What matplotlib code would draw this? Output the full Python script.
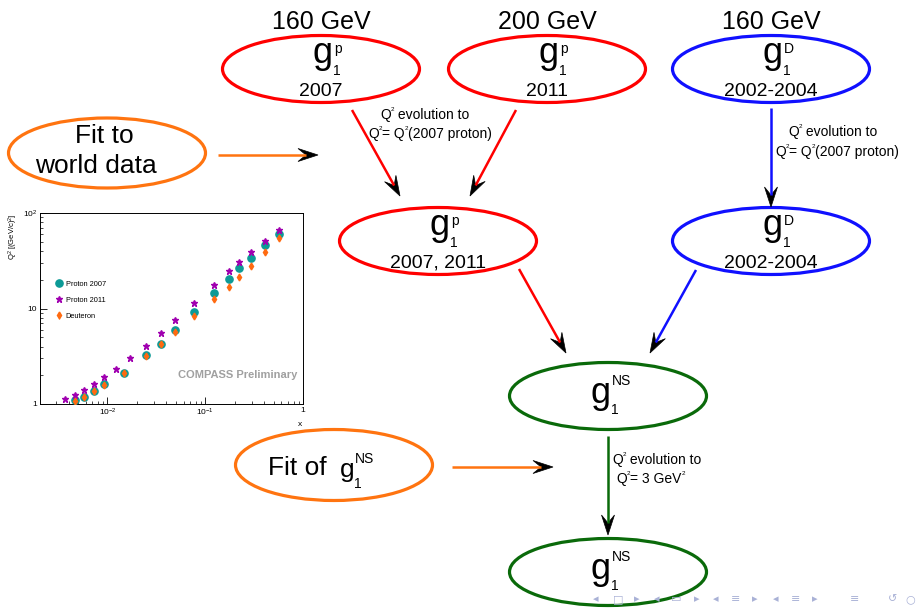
import matplotlib
matplotlib.use('Agg')
import matplotlib.pyplot as plt
from matplotlib.patches import Ellipse, Polygon
import numpy as np

plt.rcParams['font.family'] = ['Liberation Sans', 'DejaVu Sans']
plt.rcParams['mathtext.fontset'] = 'custom'
plt.rcParams['mathtext.rm'] = 'Liberation Sans'
plt.rcParams['mathtext.it'] = 'Liberation Sans'

# kinematic coverage (x, Q^2) of the three data sets
x_p07 = [0.0047, 0.0057, 0.0072, 0.0092, 0.0149, 0.0245, 0.0349, 0.0493,
         0.077, 0.122, 0.173, 0.223, 0.291, 0.405, 0.563]
q2_p07 = [1.10, 1.19, 1.38, 1.61, 2.12, 3.23, 4.28, 6.0,
          9.3, 14.6, 20.5, 26.4, 33.9, 46.4, 60.6]
x_p11 = [0.0037, 0.0047, 0.0057, 0.0072, 0.0092, 0.0121, 0.0171, 0.0245, 0.0349,
         0.0493, 0.077, 0.122, 0.173, 0.223, 0.291, 0.405, 0.563]
q2_p11 = [1.12, 1.23, 1.39, 1.61, 1.91, 2.32, 3.0, 4.08, 5.55,
          7.54, 11.5, 17.6, 24.5, 30.7, 38.8, 50.7, 66.2]
x_d = [0.0047, 0.0057, 0.0072, 0.0092, 0.0149, 0.0245, 0.0349, 0.0493,
       0.077, 0.122, 0.173, 0.223, 0.291, 0.405, 0.563]
q2_d = [1.08, 1.19, 1.36, 1.60, 2.12, 3.15, 4.21, 5.73,
        8.37, 12.5, 16.9, 21.4, 27.9, 39.2, 54.1]
q2_d_err = [0.05, 0.05, 0.06, 0.07, 0.09, 0.13, 0.17, 0.23,
            0.33, 0.5, 0.7, 0.9, 1.1, 1.6, 2.2]
legend_labels = ['Proton 2007', 'Proton 2011', 'Deuteron']

RED, BLUE, GREEN, ORANGE = '#ff0000', '#1010ff', '#0a6a0a', '#ff7410'

W, H = 921, 608
fig = plt.figure(figsize=(W / 100, H / 100), dpi=100)
ax = fig.add_axes([0, 0, 1, 1])
ax.set_xlim(0, W)
ax.set_ylim(H, 0)
ax.axis('off')
rend = fig.canvas.get_renderer()


def ellipse(cx, cy, color, w=197, h=67):
    ax.add_patch(Ellipse((cx, cy), w, h, fill=False, ec=color, lw=2.3))


def gsym(cx, cy, sup, size=26, sub_top=-5, sup_top=-27, g_base=-6, gx=1):
    ax.text(cx + gx, cy + g_base, 'g', fontsize=size, ha='center', va='baseline')
    ax.text(cx + gx + 11, cy + sub_top, '1', fontsize=10, ha='left', va='top')
    ax.text(cx + gx + 12, cy + sup_top, sup, fontsize=10, ha='left', va='top')


def node(cx, cy, color, sup, year=None, energy=None):
    ellipse(cx, cy, color)
    if year is None:
        gsym(cx, cy, sup, sub_top=7, sup_top=-22, g_base=7, gx=-8)
    else:
        gsym(cx, cy, sup)
        ax.text(cx, cy + 27, year, fontsize=14, ha='center', va='baseline')
    if energy:
        ax.text(cx, 29, energy, fontsize=18, ha='center', va='baseline')


def arrow(x0, y0, x1, y1, color, L=20, hw=6.5, notch=8):
    d = np.array([x1 - x0, y1 - y0], float)
    d /= np.hypot(*d)
    n = np.array([-d[1], d[0]])
    tip = np.array([x1, y1], float)
    back = tip - (L - notch) * d
    ax.plot([x0, back[0]], [y0, back[1]], color=color, lw=1.8, solid_capstyle='butt')
    pts = [tip, tip - L * d + hw * n, back, tip - L * d - hw * n]
    ax.add_patch(Polygon(pts, closed=True, fc='black', ec='black', lw=0.5))


def qline(x, y, parts, size=10):
    # one line of text; '^' puts a tiny raised "2" after the previous letter
    xc = x
    for s in parts:
        if s == '^':
            t = ax.text(xc, y - 8, '2', fontsize=size * 0.45, va='baseline')
        else:
            t = ax.text(xc, y, s, fontsize=size, va='baseline')
        xc += t.get_window_extent(rend).width


# nodes
node(321, 69, RED, 'p', '2007', '160 GeV')
node(547, 69, RED, 'p', '2011', '200 GeV')
node(771, 69, BLUE, 'D', '2002-2004', '160 GeV')
node(438, 241, RED, 'p', '2007, 2011')
node(771, 241, BLUE, 'D', '2002-2004')
node(608, 396, GREEN, 'NS')
node(608, 572, GREEN, 'NS')

# fit ellipses
ellipse(107, 153, ORANGE, h=70)
ax.text(104, 143, 'Fit to', fontsize=19, ha='center', va='baseline')
ax.text(96, 173, 'world data', fontsize=19, ha='center', va='baseline')
arrow(218, 155, 318, 155, ORANGE)

ellipse(334, 465, ORANGE, h=71)
ax.text(268, 475, 'Fit of', fontsize=19, ha='left', va='baseline')
ax.text(347, 477, 'g', fontsize=19, ha='center', va='baseline')
ax.text(354, 477, '1', fontsize=10, ha='left', va='top')
ax.text(355, 452, 'NS', fontsize=10, ha='left', va='top')
arrow(452, 467, 553, 467, ORANGE)

# evolution arrows
arrow(352, 110, 400, 196, RED)
arrow(516, 110, 470, 196, RED)
arrow(771, 108, 771, 207, BLUE)
arrow(519, 269, 566, 353, RED)
arrow(696, 270, 650, 353, BLUE)
arrow(608, 436, 608, 535, GREEN)

qline(380, 119, ['Q', '^', ' evolution to'])
qline(368, 138, ['Q', '^', '= Q', '^', '(2007 proton)'])
qline(788, 136, ['Q', '^', ' evolution to'])
qline(775, 156, ['Q', '^', '= Q', '^', '(2007 proton)'])
qline(612, 464, ['Q', '^', ' evolution to'])
qline(616, 483, ['Q', '^', '= 3 GeV', '^'])

# navigation symbols
nav = [(596, '◂'), (618, '□'), (637, '▸'), (657, '◂'), (676, '▭'), (697, '▸'),
       (716, '◂'), (736, '≡'), (755, '▸'), (776, '◂'), (796, '≡'), (815, '▸'),
       (855, '≡'), (893, '↺'), (910, '○')]
for xn, s in nav:
    ax.text(xn, 599, s, fontsize=8, color='#a9b1d6', ha='center', va='center',
            family='DejaVu Sans')

# inset: Q^2 vs x coverage
ins = fig.add_axes([40 / W, 1 - 404 / H, 263 / W, 191 / H])
ins.set_xscale('log')
ins.set_yscale('log')
ins.set_xlim(0.00204, 1)
ins.set_ylim(1, 100)
ins.plot(x_p07, q2_p07, 'o', color='#0c9a96', ms=5.2, label=legend_labels[0], zorder=3)
ins.plot(x_p11, q2_p11, '*', color='#a000b0', ms=5, label=legend_labels[1], zorder=4)
ins.errorbar(x_d, q2_d, yerr=q2_d_err, fmt='d', color='#ff6a10', ms=3.5,
             elinewidth=0.8, capsize=0, label=legend_labels[2], zorder=5)
ins.legend(loc='upper left', bbox_to_anchor=(0.03, 0.68), frameon=False,
           fontsize=5.3, handletextpad=0.3, labelspacing=1.2, handlelength=1.2)
ins.set_xticks([0.01, 0.1, 1])
ins.set_xticklabels(['10$^{-2}$', '10$^{-1}$', '1'])
ins.set_yticks([1, 10, 100])
ins.set_yticklabels(['1', '10', '10$^2$'])
ins.tick_params(which='both', direction='in', labelsize=6, top=False, right=False, pad=2)
ins.tick_params(which='major', length=5, width=0.6)
ins.tick_params(which='minor', length=2.5, width=0.5)
for sp in ins.spines.values():
    sp.set_linewidth(0.7)
ins.text(0.98, 0.15, 'COMPASS Preliminary', transform=ins.transAxes, fontsize=8,
         fontweight='bold', color='#a0a0a0', ha='right', va='center')
fig.text(13 / W, 1 - 237 / H, 'Q$^2$ [(GeV/c)$^2$]', fontsize=5.5, rotation=90,
         ha='center', va='center')
fig.text(300 / W, 1 - 425 / H, 'x', fontsize=6, ha='center', va='center')

fig.savefig('out.png', dpi=100)
